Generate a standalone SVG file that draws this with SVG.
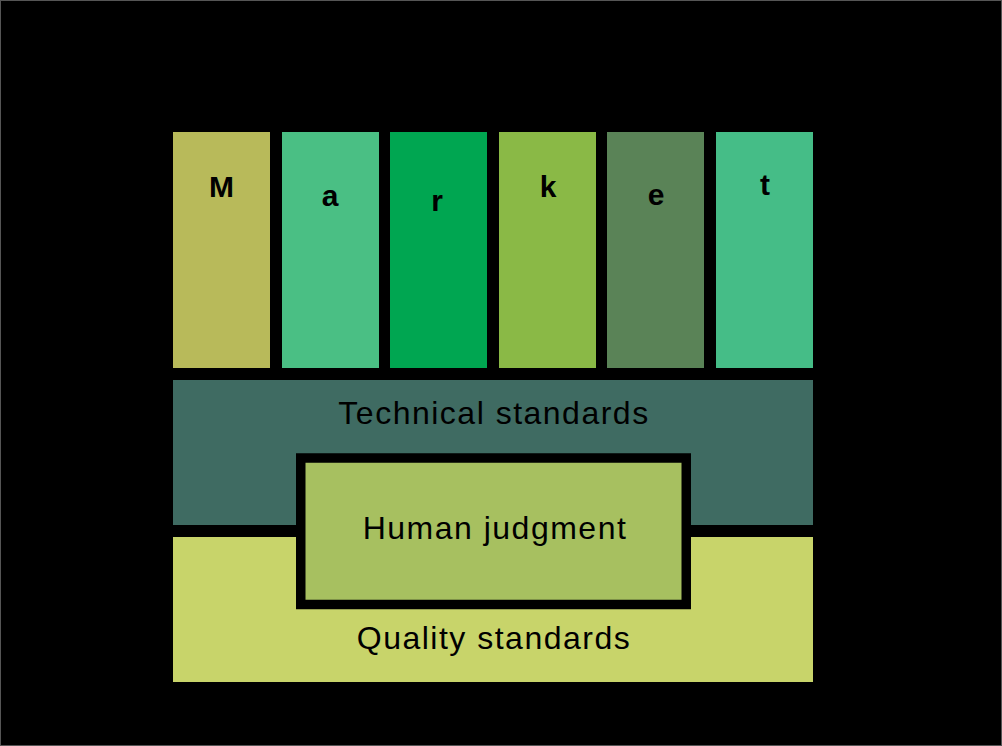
<svg xmlns="http://www.w3.org/2000/svg" width="1002" height="746" viewBox="0 0 1002 746">
<style>
.letter{font-family:"Liberation Sans",Arial,sans-serif;font-weight:bold;font-size:30px;fill:#000;text-anchor:middle}
.label{font-family:"Liberation Sans",Arial,sans-serif;font-size:32px;fill:#000;text-anchor:middle;letter-spacing:1.5px}
</style>
<rect x="0.5" y="0.5" width="1001" height="745" fill="#000" stroke="#555" stroke-width="1"/>
<g id="col-M"><rect x="173" y="132" width="97" height="236" fill="#B8BA5A"/><text class="letter" x="221.5" y="197">M</text></g>
<g id="col-a"><rect x="282" y="132" width="97" height="236" fill="#4ABF84"/><text class="letter" x="330" y="206">a</text></g>
<g id="col-r"><rect x="390" y="132" width="97" height="236" fill="#00A651"/><text class="letter" x="437" y="211">r</text></g>
<g id="col-k"><rect x="499" y="132" width="97" height="236" fill="#8AB946"/><text class="letter" x="548" y="197">k</text></g>
<g id="col-e"><rect x="607" y="132" width="97" height="236" fill="#5A8357"/><text class="letter" x="656" y="205">e</text></g>
<g id="col-t"><rect x="716" y="132" width="97" height="236" fill="#45BD87"/><text class="letter" x="765" y="195">t</text></g>
<g id="technical"><rect x="173" y="380" width="640" height="145" fill="#3F6B62"/><text class="label" x="494" y="424">Technical standards</text></g>
<g id="quality"><rect x="173" y="537" width="640" height="145" fill="#C8D46A"/><text class="label" x="494" y="649">Quality standards</text></g>
<g id="human"><rect x="300.75" y="458" width="385.5" height="146.5" fill="#A7C060" stroke="#000" stroke-width="9.5"/><text class="label" x="495" y="539">Human judgment</text></g>
<g id="connectors"></g>
</svg>
